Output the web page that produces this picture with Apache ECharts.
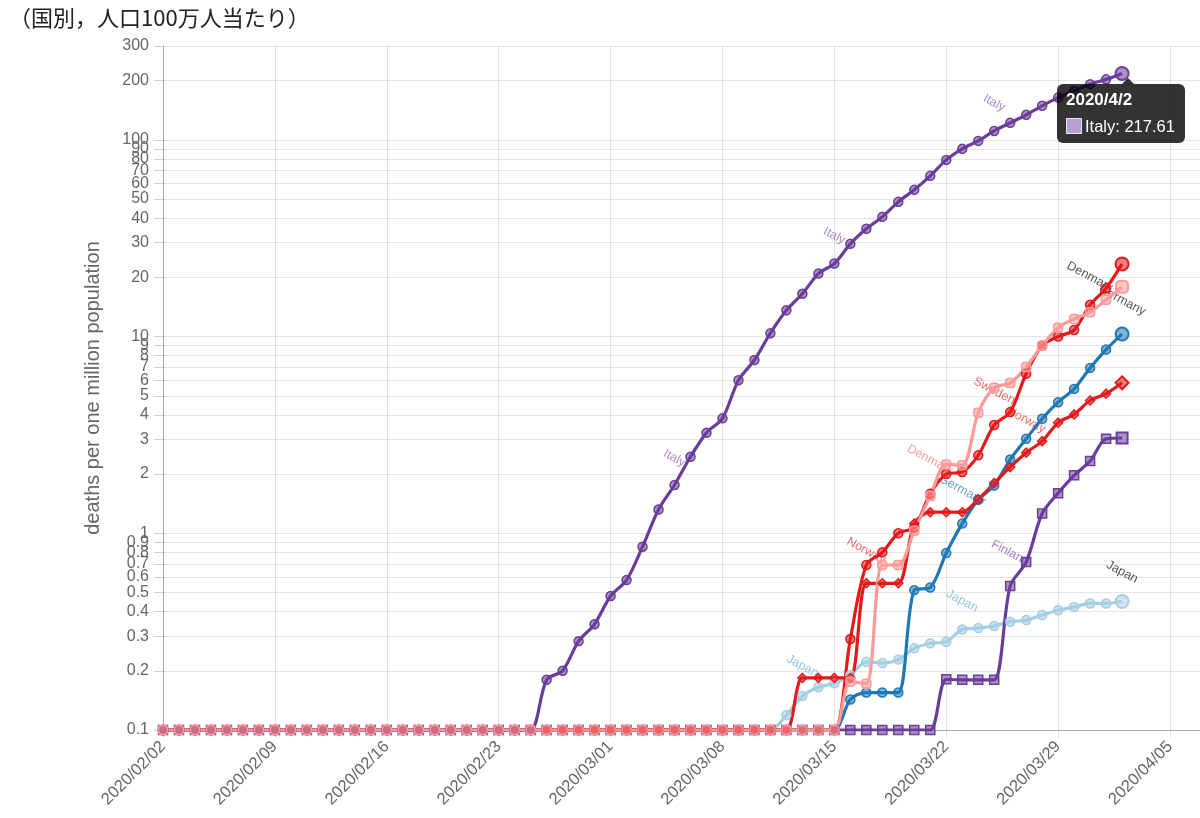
<!DOCTYPE html>
<html>
<head>
<meta charset="utf-8">
<script src="https://cdn.jsdelivr.net/npm/echarts@6/dist/echarts.min.js"></script>
<style>
html,body{margin:0;padding:0;background:#fff;}
#chart{width:1200px;height:818px;}
</style>
</head>
<body>
<div id="chart"></div>
<script>
// ---------------- data ----------------
const titleText = '（国別，人口100万人当たり）';
const yAxisName = 'deaths per one million population';

// categories: every day from 2020/02/02 to 2020/04/07
const categories = [];
(function () {
  const t0 = Date.UTC(2020, 1, 2);
  for (let i = 0; i < 66; i++) {
    const d = new Date(t0 + i * 86400000);
    categories.push(d.getUTCFullYear() + '/' + String(d.getUTCMonth() + 1).padStart(2, '0') + '/' + String(d.getUTCDate()).padStart(2, '0'));
  }
})();

const yTicks = [0.1, 0.2, 0.3, 0.4, 0.5, 0.6, 0.7, 0.8, 0.9,
  1, 2, 3, 4, 5, 6, 7, 8, 9,
  10, 20, 30, 40, 50, 60, 70, 80, 90,
  100, 200, 300];

// values per day, 2020/02/02 .. 2020/04/02 (one row per week)
const italy = [
  0.1, 0.1, 0.1, 0.1, 0.1, 0.1, 0.1,
  0.1, 0.1, 0.1, 0.1, 0.1, 0.1, 0.1,
  0.1, 0.1, 0.1, 0.1, 0.1, 0.1, 0.1,
  0.1, 0.1, 0.1, 0.18, 0.2, 0.283, 0.345,
  0.48, 0.578, 0.855, 1.32, 1.76, 2.45, 3.24,
  3.84, 6.0, 7.6, 10.4, 13.6, 16.5, 20.9,
  23.5, 29.6, 35.3, 40.6, 48.4, 55.7, 65.6,
  79.1, 90.0, 98.8, 111, 122, 134, 149,
  164, 177, 192, 203, 217.61
];
const sweden = [
  0.1, 0.1, 0.1, 0.1, 0.1, 0.1, 0.1,
  0.1, 0.1, 0.1, 0.1, 0.1, 0.1, 0.1,
  0.1, 0.1, 0.1, 0.1, 0.1, 0.1, 0.1,
  0.1, 0.1, 0.1, 0.1, 0.1, 0.1, 0.1,
  0.1, 0.1, 0.1, 0.1, 0.1, 0.1, 0.1,
  0.1, 0.1, 0.1, 0.1, 0.1, 0.1, 0.1,
  0.1, 0.29, 0.69, 0.80, 1.0, 1.07, 1.59,
  2.0, 2.05, 2.49, 3.55, 4.13, 6.47, 9.0,
  10.0, 10.8, 14.5, 17.6, 23.4
];
const norway = [
  0.1, 0.1, 0.1, 0.1, 0.1, 0.1, 0.1,
  0.1, 0.1, 0.1, 0.1, 0.1, 0.1, 0.1,
  0.1, 0.1, 0.1, 0.1, 0.1, 0.1, 0.1,
  0.1, 0.1, 0.1, 0.1, 0.1, 0.1, 0.1,
  0.1, 0.1, 0.1, 0.1, 0.1, 0.1, 0.1,
  0.1, 0.1, 0.1, 0.1, 0.1, 0.184, 0.184,
  0.184, 0.184, 0.557, 0.557, 0.557, 1.12, 1.28,
  1.28, 1.28, 1.49, 1.8, 2.17, 2.57, 2.94,
  3.65, 4.02, 4.73, 5.12, 5.82
];
const denmark = [
  0.1, 0.1, 0.1, 0.1, 0.1, 0.1, 0.1,
  0.1, 0.1, 0.1, 0.1, 0.1, 0.1, 0.1,
  0.1, 0.1, 0.1, 0.1, 0.1, 0.1, 0.1,
  0.1, 0.1, 0.1, 0.1, 0.1, 0.1, 0.1,
  0.1, 0.1, 0.1, 0.1, 0.1, 0.1, 0.1,
  0.1, 0.1, 0.1, 0.1, 0.1, 0.1, 0.1,
  0.1, 0.176, 0.172, 0.69, 0.69, 1.03, 1.55,
  2.24, 2.22, 4.1, 5.5, 5.8, 7.0, 9.0,
  11.1, 12.3, 13.3, 15.4, 17.9
];
const germany = [
  0.1, 0.1, 0.1, 0.1, 0.1, 0.1, 0.1,
  0.1, 0.1, 0.1, 0.1, 0.1, 0.1, 0.1,
  0.1, 0.1, 0.1, 0.1, 0.1, 0.1, 0.1,
  0.1, 0.1, 0.1, 0.1, 0.1, 0.1, 0.1,
  0.1, 0.1, 0.1, 0.1, 0.1, 0.1, 0.1,
  0.1, 0.1, 0.1, 0.1, 0.1, 0.1, 0.1,
  0.1, 0.143, 0.155, 0.155, 0.155, 0.514, 0.53,
  0.794, 1.12, 1.48, 1.75, 2.37, 3.02, 3.82,
  4.64, 5.42, 6.93, 8.59, 10.3
];
const finland = [
  0.1, 0.1, 0.1, 0.1, 0.1, 0.1, 0.1,
  0.1, 0.1, 0.1, 0.1, 0.1, 0.1, 0.1,
  0.1, 0.1, 0.1, 0.1, 0.1, 0.1, 0.1,
  0.1, 0.1, 0.1, 0.1, 0.1, 0.1, 0.1,
  0.1, 0.1, 0.1, 0.1, 0.1, 0.1, 0.1,
  0.1, 0.1, 0.1, 0.1, 0.1, 0.1, 0.1,
  0.1, 0.1, 0.1, 0.1, 0.1, 0.1, 0.1,
  0.181, 0.18, 0.18, 0.18, 0.54, 0.714, 1.26,
  1.6, 1.97, 2.33, 3.02, 3.05
];
const japan = [
  0.1, 0.1, 0.1, 0.1, 0.1, 0.1, 0.1,
  0.1, 0.1, 0.1, 0.1, 0.1, 0.1, 0.1,
  0.1, 0.1, 0.1, 0.1, 0.1, 0.1, 0.1,
  0.1, 0.1, 0.1, 0.1, 0.1, 0.1, 0.1,
  0.1, 0.1, 0.1, 0.1, 0.1, 0.1, 0.1,
  0.1, 0.1, 0.1, 0.1, 0.119, 0.149, 0.165,
  0.173, 0.19, 0.222, 0.219, 0.228, 0.26, 0.276,
  0.281, 0.324, 0.33, 0.338, 0.355, 0.362, 0.384,
  0.406, 0.422, 0.44, 0.44, 0.45
];

// ---------------- styling / option ----------------
function rgba(hex, a) {
  const n = parseInt(hex.slice(1), 16);
  return 'rgba(' + (n >> 16) + ',' + ((n >> 8) & 255) + ',' + (n & 255) + ',' + a + ')';
}
const FONT = "'Liberation Sans', Arial, sans-serif";
const GRID_C = 'rgba(0,0,0,0.1)';
const AXIS_C = 'rgba(0,0,0,0.25)';
const ROUNDED_SQUARE = 'path://M3.5,0 H6.5 A3.5,3.5 0 0 1 10,3.5 V6.5 A3.5,3.5 0 0 1 6.5,10 H3.5 A3.5,3.5 0 0 1 0,6.5 V3.5 A3.5,3.5 0 0 1 3.5,0 Z';

// inline label anchored at [category index, value]
function lbl(idx, v, text, color) {
  return {
    coord: [categories[idx], v], name: text,
    label: { color: color }
  };
}

function makeSeries(name, values, color, symbol, labels, endSize) {
  return {
    name: name,
    type: 'line',
    data: values.map(function (v, i) {
      return i === values.length - 1
        ? { value: v, symbolSize: endSize || 13, itemStyle: { borderWidth: 2 } }
        : v;
    }),
    symbol: symbol,
    symbolSize: 9,
    showAllSymbol: true,
    smooth: 0.3,
    lineStyle: { color: color, width: 3.2 },
    itemStyle: { color: rgba(color, 0.55), borderColor: color, borderWidth: 1.5 },
    emphasis: { disabled: true },
    z: 3,
    markPoint: {
      silent: true,
      z: 1,
      symbol: 'circle',
      symbolSize: 1,
      itemStyle: { color: 'rgba(0,0,0,0)' },
      label: {
        show: true, position: 'inside', formatter: '{b}',
        rotate: -28, fontSize: 12.5, fontFamily: FONT
      },
      data: labels
    }
  };
}

const C_ITALY = '#6a3d9a', C_FIN = '#6a3d9a', C_GER = '#1f78b4', C_JPN = '#a6cee3',
  C_DEN = '#fb9a99', C_SWE = '#e31a1c', C_NOR = '#e31a1c';

const series = [
  makeSeries('Japan', japan, C_JPN, 'circle', [
    lbl(40, 0.211, 'Japan', 'rgba(140,190,220,0.9)'),
    lbl(50, 0.453, 'Japan', 'rgba(140,190,220,0.9)'),
    lbl(60, 0.636, 'Japan', '#555')
  ]),
  makeSeries('Finland', finland, C_FIN, 'rect', [
    lbl(53, 0.794, 'Finland', rgba(C_FIN, 0.65))
  ], 11),
  makeSeries('Germany', germany, C_GER, 'circle', [
    lbl(50, 1.66, 'Germany', rgba(C_GER, 0.7)),
    lbl(60, 15.3, 'Germany', '#555')
  ]),
  makeSeries('Norway', norway, C_NOR, 'diamond', [
    lbl(44, 0.815, 'Norway', rgba(C_NOR, 0.65)),
    lbl(54, 3.77, 'Norway', rgba(C_NOR, 0.65))
  ]),
  makeSeries('Sweden', sweden, C_SWE, 'circle', [
    lbl(52, 5.29, 'Sweden', rgba(C_SWE, 0.65))
  ]),
  makeSeries('Italy', italy, C_ITALY, 'circle', [
    lbl(32, 2.41, 'Italy', rgba(C_ITALY, 0.6)),
    lbl(42, 32.5, 'Italy', rgba(C_ITALY, 0.6)),
    lbl(52, 154, 'Italy', rgba(C_ITALY, 0.6))
  ]),
  makeSeries('Denmark', denmark, C_DEN, ROUNDED_SQUARE, [
    lbl(48, 2.36, 'Denmark', 'rgba(240,130,130,0.75)'),
    lbl(58, 20.1, 'Denmark', '#555')
  ], 12)
];

const option = {
  animation: false,
  textStyle: { fontFamily: FONT },
  title: {
    text: titleText,
    left: 4, top: 2,
    textStyle: { fontFamily: "'Noto Sans CJK JP', sans-serif", fontSize: 22, fontWeight: 'normal', color: '#222' }
  },
  grid: { left: 163, top: 46, width: 1039, height: 684, outerBoundsMode: 'none', containLabel: false },
  tooltip: {
    trigger: 'item',
    triggerOn: 'none',
    alwaysShowContent: true,
    transitionDuration: 0,
    position: [1057, 84],
    backgroundColor: 'rgba(0,0,0,0.8)',
    borderWidth: 0,
    borderColor: 'rgba(0,0,0,0)',
    borderRadius: 6,
    padding: [6, 10, 7, 9],
    extraCssText: 'box-shadow:none;',
    formatter: function (p) {
      const d = categories[p.dataIndex].split('/');
      const ds = d[0] + '/' + (+d[1]) + '/' + (+d[2]);
      const v = (typeof p.value === 'object' && p.value !== null) ? p.value.value : p.value;
      return '<div style="position:relative;font-family:' + FONT.replace(/'/g, '') + ';color:#fff;">' +
        '<div style="position:absolute;left:56px;top:-12px;width:0;height:0;border-left:6px solid transparent;border-right:6px solid transparent;border-bottom:6px solid rgba(0,0,0,0.8);"></div>' +
        '<div style="font-weight:bold;font-size:17px;line-height:20px;">' + ds + '</div>' +
        '<div style="font-size:16.5px;line-height:20px;margin-top:6px;display:flex;align-items:center;">' +
        '<span style="display:inline-block;width:14px;height:14px;background:#b5a1d6;border:1px solid #e8e0f4;margin-right:3px;"></span>' +
        p.seriesName + ': ' + v + '</div></div>';
    }
  },
  xAxis: {
    type: 'category',
    data: categories,
    boundaryGap: false,
    axisLine: { onZero: false, lineStyle: { color: AXIS_C, width: 1 } },
    axisTick: { show: true, interval: 6, length: 8, lineStyle: { color: GRID_C } },
    axisLabel: { interval: 6, rotate: 45, fontSize: 16.5, color: '#666', margin: 14 },
    splitLine: { show: true, interval: 6, lineStyle: { color: GRID_C } }
  },
  yAxis: {
    type: 'log',
    logBase: 10,
    min: 0.1,
    max: 300,
    name: yAxisName,
    nameLocation: 'middle',
    nameGap: 60,
    nameTextStyle: { fontSize: 20, color: '#666' },
    axisLine: { show: true, lineStyle: { color: AXIS_C, width: 1 } },
    axisTick: { show: true, length: 9, customValues: yTicks, lineStyle: { color: 'rgba(0,0,0,0.18)' } },
    axisLabel: {
      customValues: yTicks, fontSize: 16, color: '#666', margin: 14,
      formatter: function (v) { return String(parseFloat(Number(v).toPrecision(4))); }
    },
    splitLine: { show: true, lineStyle: { color: GRID_C } }
  },
  series: series
};

const chart = echarts.init(document.getElementById('chart'), null, { renderer: 'canvas' });
chart.setOption(option);
chart.dispatchAction({ type: 'showTip', seriesIndex: 5, dataIndex: italy.length - 1 });
</script>
</body>
</html>
